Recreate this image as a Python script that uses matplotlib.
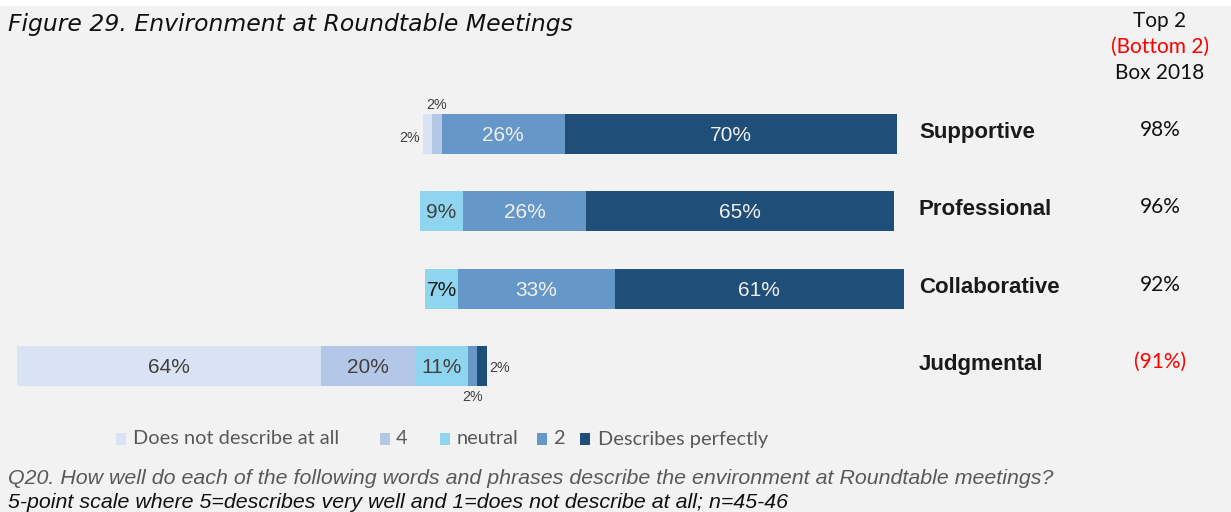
import matplotlib
matplotlib.use("Agg")
import matplotlib.pyplot as plt
import matplotlib.transforms as mtransforms
from matplotlib.patches import Rectangle
import numpy as np

# ---- data ----
categories = ['Supportive', 'Professional', 'Collaborative', 'Judgmental']
does_not = [2, 0, 0, 64]
four = [2, 0, 0, 20]
neutral = [0, 9, 7, 11]
two = [26, 26, 33, 2]
perfect = [70, 65, 61, 2]
top2 = ['98%', '96%', '92%', '(91%)']
top2_colors = ['#111111', '#111111', '#111111', '#ff0000']
legend_labels = ['Does not describe at all', '4', 'neutral', '2', 'Describes perfectly']

colors = ['#dae3f3', '#b4c7e7', '#8fd5ef', '#6597c8', '#1f4e79']
label_colors = ['#404040', '#404040', '#404040', '#f0f0f0', '#f0f0f0']

W, H = 1231, 512
fig = plt.figure(figsize=(W / 100, H / 100), dpi=100)
fig.patch.set_facecolor('#f2f2f2')
# white strip at top
fig.add_artist(Rectangle((0, 1 - 6 / H), 1, 6 / H, transform=fig.transFigure,
                         facecolor='white', edgecolor='none', zorder=0))

ax = fig.add_axes([0, 0, 1, 1])
ax.set_facecolor('none')
for s in ax.spines.values():
    s.set_visible(False)
ax.set_xticks([])
ax.set_yticks([])

# pixel mapping: 0% (neutral midpoint) at x=441.5 px, 4.74 px per %
cx, sx = 441.5, 4.74
ax.set_xlim(-cx / sx, (W - cx) / sx)
cy0, sy = 134, 77.33
ax.set_ylim((H - cy0) / sy, -cy0 / sy)

y = np.arange(len(categories))
series = [does_not, four, neutral, two, perfect]
starts = -(np.array(does_not) + np.array(four) + np.array(neutral) / 2.0)
left = starts.astype(float).copy()
bar_h = 40 / sy
for i, vals in enumerate(series):
    vals = np.array(vals, dtype=float)
    ax.barh(y, vals, left=left, height=bar_h, color=colors[i],
            edgecolor='none', label=legend_labels[i])
    for j, v in enumerate(vals):
        if v >= 5:
            c = label_colors[i]
            if i == 2 and categories[j] == 'Collaborative':
                c = '#1a1a1a'
            ax.text(left[j] + v / 2, y[j] + 0.02, f'{int(v)}%', ha='center', va='center',
                    fontsize=15, color=c, family='Liberation Sans')
    left = left + vals

small_font = dict(fontsize=10.3, color='#404040', family='Liberation Sans')
# Supportive small labels
j = 0
ax.text(starts[j] - 0.5, y[j] + 0.05, f'{does_not[j]}%', ha='right', va='center', **small_font)
ax.text(starts[j] + does_not[j] + four[j] / 2, y[j] - 0.38, f'{four[j]}%', ha='center', va='center', **small_font)
# Judgmental small labels
j = 3
end_j = starts[j] + does_not[j] + four[j] + neutral[j] + two[j] + perfect[j]
ax.text(end_j + 0.5, y[j] + 0.02, f'{perfect[j]}%', ha='left', va='center', **small_font)
ax.text(end_j - perfect[j] - two[j] / 2, y[j] + 0.40, f'{two[j]}%', ha='center', va='center', **small_font)

# category labels and top-2 values
trans = mtransforms.blended_transform_factory(fig.transFigure, ax.transData)
for j, cat in enumerate(categories):
    ax.text(919 / W, y[j] - 0.02, cat, transform=trans, ha='left', va='center',
            fontsize=16, fontweight='bold', color='#1a1a1a', family='Liberation Sans')
    ax.text(1160 / W, y[j] - 0.05, top2[j], transform=trans, ha='center', va='center',
            fontsize=15, color=top2_colors[j], family='Lato')

# header
fig.text(1160 / W, 1 - 21 / H, 'Top 2', ha='center', va='center', fontsize=15, color='#111111', family='Lato')
fig.text(1160 / W, 1 - 47 / H, '(Bottom 2)', ha='center', va='center', fontsize=15, color='#ff0000', family='Lato')
fig.text(1160 / W, 1 - 73 / H, 'Box 2018', ha='center', va='center', fontsize=15, color='#111111', family='Lato')

# title
fig.text(8 / W, 1 - 25 / H, 'Figure 29. Environment at Roundtable Meetings', ha='left', va='center',
         fontsize=16.9, style='italic', color='#111111', family='DejaVu Sans')

# legend (manual)
leg_y = 439
leg_items = [(116, 133), (380, 396), (440, 457), (537, 553), (580, 598)]
for k, (sq_x, tx) in enumerate(leg_items):
    fig.add_artist(Rectangle((sq_x / W, 1 - (leg_y + 6) / H), 10 / W, 12 / H, transform=fig.transFigure,
                             facecolor=colors[k], edgecolor='none'))
    fig.text(tx / W, 1 - leg_y / H, legend_labels[k], ha='left', va='center', fontsize=14.4,
             color='#595959', family='Lato')

# footnote
fig.text(8 / W, 1 - 479 / H, 'Q20. How well do each of the following words and phrases describe the environment at Roundtable meetings?',
         ha='left', va='center', fontsize=15.4, style='italic', color='#595959', family='Liberation Sans')
fig.text(8 / W, 1 - 502 / H, '5-point scale where 5=describes very well and 1=does not describe at all; n=45-46',
         ha='left', va='center', fontsize=15.4, style='italic', color='#111111', family='Liberation Sans')

fig.savefig('out.png', dpi=100, facecolor=fig.get_facecolor())
